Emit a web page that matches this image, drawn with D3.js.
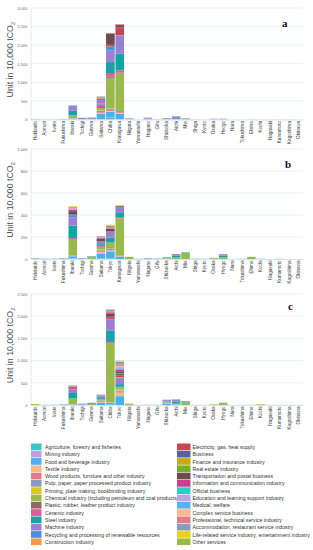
<!DOCTYPE html>
<html>
<head>
<meta charset="utf-8">
<script src="https://cdn.jsdelivr.net/npm/d3@7"></script>
<style>
  body { margin: 0; background: #fff; }
  svg { display: block; font-family: "Liberation Sans", Arial, sans-serif; }
</style>
</head>
<body>
<svg id="chart" width="313" height="550"></svg>
<script>
// industry categories (stack order = legend order)
var industries = [
  "Agriculture, forestry and fisheries", "Mining industry", "Food and beverage industry",
  "Textile industry", "Wood products, furniture and other industry",
  "Pulp, paper, paper processed product industry", "Printing, plate making, bookbinding industry",
  "Chemical industry (including petroleum and coal products)", "Plastic, rubber, leather product  industry",
  "Ceramic industry", "Steel industry", "Machine industry",
  "Recycling and processing of renewable resources", "Construction industry",
  "Electricity, gas, heat supply", "Business", "Finance and insurance industry",
  "Real estate  industry", "Transportation and postal business",
  "Information and communication industry", "Official business",
  "Education and learning support industry", "Medical, welfare", "Complex service business",
  "Professional, technical service industry", "Accommodation, restaurant service industry",
  "Life-related service industry, entertainment industry", "Other services"
];
var colors = [
  "#3cc3c8", "#b9a0e0", "#4cb0ee", "#f7b98a", "#df7b84", "#8c9bbb", "#e0c810",
  "#9ab94c", "#8b6b63", "#dd5c9f", "#16a3a3", "#9a7fd2", "#4f8fd8", "#f39a4a",
  "#c8464d", "#58619a", "#c9a912", "#79b023", "#6c4d4b", "#c7408f", "#34c8c8",
  "#b8a6e2", "#55b3f2", "#f8b890", "#e27d86", "#8b9bba", "#e8d21c", "#9ab94c"
];

var prefsA = ["Hokkaido","Aomori","Iwate","Fukushima","Ibaraki","Tochigi","Gunma","Saitama","Chiba","Kanagawa",
  "Niigata","Yamanashi","Nagano","Gifu","Shizuoka","Aichi","Mie","Shiga","Kyoto","Osaka","Hyogo","Nara",
  "Tokushima","Ehime","Kochi","Nagasaki","Kumamoto","Kagoshima","Okinawa"];
var prefsB = ["Hokkaido","Aomori","Iwate","Fukushima","Ibaraki","Tochigi","Gunma","Saitama","Tokyo","Kanagawa",
  "Niigata","Yamanashi","Nagano","Gifu","Shizuoka","Aichi","Mie","Shiga","Kyoto","Osaka","Hyogo","Nara",
  "Tokushima","Ehime","Kochi","Nagasaki","Kumamoto","Kagoshima","Okinawa"];
var prefsC = ["Hokkaido","Aomori","Iwate","Fukushima","Ibaraki","Tochigi","Gunma","Saitama","Chiba","Tokyo",
  "Niigata","Yamanashi","Nagano","Gifu","Shizuoka","Aichi","Mie","Shiga","Kyoto","Osaka","Hyogo","Nara",
  "Tokushima","Ehime","Kochi","Nagasaki","Kumamoto","Kagoshima","Okinawa"];

// values per prefecture, 28 industries each (unit: 10,000 tCO2)
var valuesA = {
  Hokkaido:  [3,0,8,0,0,0,0,4,0,0,0,0,0,0, 0,0,0,0,0,0,0,0,0,0,0,0,0,0],
  Aomori:    [0,0,3,0,0,0,0,2,0,0,0,0,0,0, 0,0,0,0,0,0,0,0,0,0,0,0,0,0],
  Iwate:     [0,0,3,0,0,0,0,0,0,0,0,2,0,0, 0,0,0,0,0,0,0,0,0,0,0,0,0,0],
  Fukushima: [0,0,5,0,0,0,0,5,0,0,0,5,0,0, 0,0,0,0,0,0,0,0,0,0,0,0,0,0],
  Ibaraki:   [5,0,15,5,0,10,0,65,0,10,125,130,5,0, 0,0,0,0,0,0,0,0,0,0,0,10,0,0],
  Tochigi:   [0,0,10,0,0,5,0,0,0,0,0,30,0,0, 0,0,0,0,0,0,0,0,0,0,0,0,0,0],
  Gunma:     [0,0,10,0,0,10,0,0,0,0,0,30,5,0, 0,0,0,0,0,0,0,0,0,0,0,0,0,0],
  Saitama:   [10,0,150,20,20,30,15,60,30,70,20,100,30,15, 20,0,0,0,0,0,0,0,0,0,10,20,0,0],
  Chiba:     [40,10,160,20,30,40,10,810,30,100,300,300,100,10, 20,30,0,0,300,10,0,0,0,0,0,0,0,10],
  Kanagawa:  [10,0,150,20,20,30,0,1010,20,60,450,490,10,0, 190,20,0,0,60,10,0,0,0,0,20,0,0,0],
  Niigata:   [0,0,5,0,0,0,0,10,0,0,0,15,0,0, 0,0,0,0,0,0,0,0,0,0,0,0,0,0],
  Yamanashi: [0,0,0,0,0,0,0,0,0,0,0,3,0,0, 0,0,0,0,0,0,0,0,0,0,0,0,0,0],
  Nagano:    [0,0,20,0,0,5,0,0,0,0,0,25,0,0, 0,0,0,0,0,0,0,0,0,0,0,0,0,0],
  Gifu:      [0,0,5,0,0,0,0,0,0,0,0,5,0,0, 0,0,0,0,0,0,0,0,0,0,0,0,0,0],
  Shizuoka:  [0,0,10,0,0,15,0,0,0,0,0,15,0,0, 0,0,0,0,0,0,0,0,0,0,0,0,0,0],
  Aichi:     [0,0,0,0,0,0,0,10,0,0,25,40,10,0, 0,0,0,0,0,0,0,0,0,0,0,0,0,0],
  Mie:       [0,0,0,0,0,0,0,20,0,0,0,15,0,0, 0,0,0,0,0,0,0,0,0,0,0,0,0,0],
  Shiga:     [0,0,0,0,0,0,0,0,0,0,0,5,0,0, 0,0,0,0,0,0,0,0,0,0,0,0,0,0],
  Kyoto:     [0,0,3,0,0,0,0,0,0,0,0,0,0,0, 0,0,0,0,0,0,0,0,0,0,0,0,0,0],
  Osaka:     [0,0,5,0,0,5,0,0,0,0,0,10,0,0, 0,0,0,0,0,0,0,0,0,0,0,0,0,0],
  Hyogo:     [0,0,5,0,0,0,0,0,0,0,5,10,0,0, 0,0,0,0,0,0,0,0,0,0,0,0,0,0],
  Nara:      [0,0,2,0,0,0,0,0,0,0,0,0,0,0, 0,0,0,0,0,0,0,0,0,0,0,0,0,0],
  Tokushima: [0,0,0,0,0,0,0,2,0,0,0,0,0,0, 0,0,0,0,0,0,0,0,0,0,0,0,0,0],
  Ehime:     [0,0,0,0,0,0,0,5,0,0,0,0,0,0, 0,0,0,0,0,0,0,0,0,0,0,0,0,0],
  Kochi:     [0,0,2,0,0,0,0,0,0,0,0,0,0,0, 0,0,0,0,0,0,0,0,0,0,0,0,0,0],
  Nagasaki:  [0,0,3,0,0,0,0,0,0,0,0,0,0,0, 0,0,0,0,0,0,0,0,0,0,0,0,0,0],
  Kumamoto:  [0,0,0,0,0,0,0,0,0,0,0,3,0,0, 0,0,0,0,0,0,0,0,0,0,0,0,0,0],
  Kagoshima: [0,0,3,0,0,0,0,0,0,0,0,0,0,0, 0,0,0,0,0,0,0,0,0,0,0,0,0,0],
  Okinawa:   [0,0,2,0,0,0,0,0,0,0,0,0,0,0, 0,0,0,0,0,0,0,0,0,0,0,0,0,0]
};
var valuesB = {
  Hokkaido:  [0,0,5,0,0,0,0,3,0,0,0,0,0,0, 0,0,0,0,0,0,0,0,0,0,0,0,0,0],
  Aomori:    [0,0,3,0,0,0,0,0,0,0,0,0,0,0, 0,0,0,0,0,0,0,0,0,0,0,0,0,0],
  Iwate:     [0,0,3,0,0,0,0,0,0,0,0,0,0,0, 0,0,0,0,0,0,0,0,0,0,0,0,0,0],
  Fukushima: [0,0,5,0,0,0,0,3,0,0,0,0,0,0, 0,0,0,0,0,0,0,0,0,0,0,0,0,0],
  Ibaraki:   [5,0,20,5,0,0,0,145,0,15,115,75,15,0, 0,10,0,0,30,15,0,10,0,0,10,5,7,0],
  Tochigi:   [0,0,5,0,0,0,0,0,0,0,0,3,0,0, 0,0,0,0,0,0,0,0,0,0,0,0,0,0],
  Gunma:     [0,0,0,0,0,0,0,15,0,0,8,2,0,0, 0,0,0,0,0,0,0,0,0,0,0,0,0,0],
  Saitama:   [5,0,45,10,10,10,10,15,5,10,15,20,5,0, 0,0,0,0,25,5,0,0,0,0,6,10,0,0],
  Tokyo:     [5,0,65,10,0,15,0,55,0,0,45,55,0,0, 0,0,0,0,25,0,0,0,0,0,15,15,7,0],
  Kanagawa:  [0,0,20,5,0,5,0,340,0,10,45,40,5,0, 0,0,0,0,10,0,0,0,0,0,0,5,5,0],
  Niigata:   [0,0,0,0,0,0,0,20,0,0,0,0,0,0, 0,0,0,0,0,0,0,0,0,0,0,0,0,0],
  Yamanashi: [0,0,2,0,0,0,0,0,0,0,0,0,0,0, 0,0,0,0,0,0,0,0,0,0,0,0,0,0],
  Nagano:    [0,0,5,0,0,3,0,0,0,0,0,0,0,0, 0,0,0,0,0,0,0,0,0,0,0,0,0,0],
  Gifu:      [0,0,4,0,0,0,0,0,0,0,0,0,0,0, 0,0,0,0,0,0,0,0,0,0,0,0,0,0],
  Shizuoka:  [0,0,0,0,0,5,0,5,0,0,5,0,0,0, 0,0,0,0,0,0,0,0,0,0,0,0,0,0],
  Aichi:     [0,0,0,0,0,0,0,15,0,0,15,15,0,0, 0,0,0,0,0,0,0,0,0,0,0,0,0,0],
  Mie:       [0,0,0,0,0,0,0,55,0,0,5,0,0,0, 0,0,0,0,0,0,0,0,0,0,0,0,0,0],
  Shiga:     [0,0,3,0,0,0,0,0,0,0,0,0,0,0, 0,0,0,0,0,0,0,0,0,0,0,0,0,0],
  Kyoto:     [0,0,2,0,0,0,0,0,0,0,0,0,0,0, 0,0,0,0,0,0,0,0,0,0,0,0,0,0],
  Osaka:     [0,0,0,0,0,3,0,8,0,0,0,0,0,0, 0,0,0,0,0,0,0,0,0,0,0,0,0,0],
  Hyogo:     [0,0,0,0,0,0,0,15,0,0,15,10,5,0, 0,0,0,0,0,0,0,0,0,0,0,0,0,0],
  Nara:      [0,0,0,0,0,0,0,0,0,0,0,0,0,0, 0,0,0,0,0,0,0,0,0,0,0,0,0,0],
  Tokushima: [0,0,2,0,0,0,0,0,0,0,0,0,0,0, 0,0,0,0,0,0,0,0,0,0,0,0,0,0],
  Ehime:     [0,0,0,0,0,0,0,20,0,0,0,0,0,0, 0,0,0,0,0,0,0,0,0,0,0,0,0,0],
  Kochi:     [0,0,2,0,0,0,0,0,0,0,0,0,0,0, 0,0,0,0,0,0,0,0,0,0,0,0,0,0],
  Nagasaki:  [0,0,0,0,0,0,0,0,0,0,0,0,0,0, 0,0,0,0,0,0,0,0,0,0,0,0,0,0],
  Kumamoto:  [0,0,2,0,0,0,0,0,0,0,0,0,0,0, 0,0,0,0,0,0,0,0,0,0,0,0,0,0],
  Kagoshima: [0,0,0,0,0,0,0,0,0,0,0,0,0,0, 0,0,0,0,0,0,0,0,0,0,0,0,0,0],
  Okinawa:   [0,0,0,0,0,0,0,0,0,0,0,0,0,0, 0,0,0,0,0,0,0,0,0,0,0,0,0,0]
};
var valuesC = {
  Hokkaido:  [0,0,0,0,0,0,0,20,0,0,0,0,0,0, 0,0,0,0,0,0,0,0,0,0,0,0,0,0],
  Aomori:    [0,0,5,0,0,0,0,0,0,0,0,0,0,0, 0,0,0,0,0,0,0,0,0,0,0,0,0,0],
  Iwate:     [0,0,5,0,0,0,0,0,0,0,0,0,0,0, 0,0,0,0,0,0,0,0,0,0,0,0,0,0],
  Fukushima: [0,0,5,0,0,0,0,0,0,0,0,10,0,0, 0,0,0,0,0,0,0,0,0,0,0,0,0,0],
  Ibaraki:   [5,0,10,0,0,0,0,130,0,0,125,85,10,0, 25,0,0,0,20,0,0,0,0,0,15,15,0,0],
  Tochigi:   [0,0,10,0,0,0,0,0,0,0,0,15,5,0, 0,0,0,0,0,0,0,0,0,0,0,0,0,0],
  Gunma:     [0,0,0,0,0,0,0,20,0,0,20,10,0,0, 0,0,0,0,0,0,0,0,0,0,0,0,0,0],
  Saitama:   [0,0,50,15,15,20,0,20,0,15,20,35,10,0, 0,0,0,0,10,0,0,0,0,0,10,15,0,0],
  Chiba:     [10,0,40,10,0,0,0,1340,0,20,250,250,20,0, 40,20,0,0,50,20,0,0,0,0,40,40,0,0],
  Tokyo:     [0,0,200,80,20,30,20,40,0,20,60,120,20,20, 40,30,10,0,50,30,20,40,10,20,30,70,15,5],
  Niigata:   [0,0,0,0,0,0,0,30,0,0,0,0,0,0, 0,0,0,0,0,0,0,0,0,0,0,0,0,0],
  Yamanashi: [0,0,3,0,0,0,0,0,0,0,0,0,0,0, 0,0,0,0,0,0,0,0,0,0,0,0,0,0],
  Nagano:    [0,0,0,0,0,5,0,0,0,0,0,0,0,0, 0,0,0,0,0,0,0,0,0,0,0,0,0,0],
  Gifu:      [0,0,5,0,0,0,0,0,0,0,0,0,0,0, 0,0,0,0,0,0,0,0,0,0,0,0,0,0],
  Shizuoka:  [0,0,30,10,0,20,0,20,0,0,10,20,0,0, 0,0,0,0,0,0,0,0,0,0,0,10,0,0],
  Aichi:     [0,0,15,0,0,0,0,30,0,0,30,40,5,0, 0,0,0,0,0,0,0,0,0,0,0,10,0,0],
  Mie:       [0,0,0,0,0,0,0,60,0,0,15,15,0,0, 0,0,0,0,0,0,0,0,0,0,0,0,0,0],
  Shiga:     [0,0,3,0,0,0,0,0,0,0,0,0,0,0, 0,0,0,0,0,0,0,0,0,0,0,0,0,0],
  Kyoto:     [0,0,2,0,0,0,0,0,0,0,0,0,0,0, 0,0,0,0,0,0,0,0,0,0,0,0,0,0],
  Osaka:     [0,0,0,0,0,5,0,10,0,0,0,0,0,0, 0,0,0,0,0,0,0,0,0,0,0,0,0,0],
  Hyogo:     [0,0,0,0,0,0,0,25,0,0,0,15,10,0, 0,0,0,0,0,0,0,0,0,0,0,0,0,0],
  Nara:      [0,0,0,0,0,0,0,0,0,0,0,0,0,0, 0,0,0,0,0,0,0,0,0,0,0,0,0,0],
  Tokushima: [0,0,2,0,0,0,0,0,0,0,0,0,0,0, 0,0,0,0,0,0,0,0,0,0,0,0,0,0],
  Ehime:     [0,0,0,0,0,0,0,3,0,0,0,0,0,0, 0,0,0,0,0,0,0,0,0,0,0,0,0,0],
  Kochi:     [0,0,0,0,0,0,0,15,0,0,0,0,0,0, 0,0,0,0,0,0,0,0,0,0,0,0,0,0],
  Nagasaki:  [0,0,2,0,0,0,0,0,0,0,0,0,0,0, 0,0,0,0,0,0,0,0,0,0,0,0,0,0],
  Kumamoto:  [0,0,2,0,0,0,0,0,0,0,0,0,0,0, 0,0,0,0,0,0,0,0,0,0,0,0,0,0],
  Kagoshima: [0,0,2,0,0,0,0,0,0,0,0,0,0,0, 0,0,0,0,0,0,0,0,0,0,0,0,0,0],
  Okinawa:   [0,0,0,0,0,0,0,0,0,0,0,0,0,0, 0,0,0,0,0,0,0,0,0,0,0,0,0,0]
};

var ticksA = [0, 500, 1000, 1500, 2000, 2500, 3000];
var ticksB = [0, 200, 400, 600, 800, 1000];
var ticksC = [0, 500, 1000, 1500, 2000, 2500];

var svg = d3.select("#chart");
var left = 30.5, right = 303;

var panels = [
  {prefs: prefsA, values: valuesA, ticks: ticksA, top: 8, bottom: 119.5, letter: "a", lx: 282, ly: 27},
  {prefs: prefsB, values: valuesB, ticks: ticksB, top: 149, bottom: 259, letter: "b", lx: 285, ly: 168},
  {prefs: prefsC, values: valuesC, ticks: ticksC, top: 294, bottom: 405, letter: "c", lx: 288, ly: 310}
];

panels.forEach(function(p) {
  var x = d3.scaleBand()
      .domain(p.prefs)
      .range([left, right])
      .paddingInner(0.08)
      .paddingOuter(0.04);
  var y = d3.scaleLinear()
      .domain([0, d3.max(p.ticks)])
      .range([p.bottom, p.top]);

  var g = svg.append("g");

  // gridlines
  g.append("g")
    .selectAll("line")
    .data(p.ticks.slice(1))
    .enter().append("line")
      .attr("x1", left).attr("x2", right)
      .attr("y1", function(d) { return y(d); })
      .attr("y2", function(d) { return y(d); })
      .style("stroke", "#e6edf1")
      .style("stroke-width", 0.8);

  // y axis
  var yAxis = d3.axisLeft(y).tickValues(p.ticks).tickSize(0).tickPadding(3);
  var ya = g.append("g")
      .attr("transform", "translate(" + left + ",0)")
      .call(yAxis);
  ya.select(".domain").style("stroke", "#d5e3ea").style("stroke-width", 0.8);
  ya.selectAll("text").style("font-size", "4px").style("fill", "#666");

  // stacked bars
  var rows = p.prefs.map(function(name) {
    var r = {pref: name};
    var v = p.values[name] || [];
    industries.forEach(function(ind, i) { r[ind] = v[i] || 0; });
    return r;
  });
  var stack = d3.stack().keys(industries)(rows);

  g.append("g")
    .selectAll("g")
    .data(stack)
    .enter().append("g")
      .style("fill", function(d, i) { return colors[i]; })
    .selectAll("rect")
    .data(function(d) { return d; })
    .enter().append("rect")
      .attr("x", function(d) { return x(d.data.pref); })
      .attr("width", x.bandwidth())
      .attr("y", function(d) { return y(d[1]); })
      .attr("height", function(d) { return y(d[0]) - y(d[1]); });

  // x axis, labels rotated and hanging from the baseline
  var xAxis = d3.axisBottom(x).tickSize(0).tickPadding(0);
  var xa = g.append("g")
      .attr("transform", "translate(0," + p.bottom + ")")
      .call(xAxis);
  xa.select(".domain").style("stroke", "#c9dde8").style("stroke-width", 0.8);
  xa.selectAll(".tick").attr("transform", null);
  xa.selectAll("text")
      .style("text-anchor", "end")
      .style("font-size", "4.6px")
      .style("fill", "#3a3a3a")
      .attr("x", -1.5).attr("y", 0)
      .attr("dy", "0.35em")
      .attr("transform", function(d) { return "translate(" + (x(d) + x.bandwidth() / 2) + ",0) rotate(-90)"; });

  // y axis title
  var t = g.append("text")
      .attr("transform", "translate(13," + ((p.top + p.bottom) / 2 - 4) + ") rotate(-90)")
      .style("text-anchor", "middle")
      .style("font-size", "8.8px")
      .style("fill", "#505050")
      .text("Unit in 10,000 tCO");
  t.append("tspan").attr("dy", "2").style("font-size", "5.5px").text("2");

  // panel letter
  g.append("text")
      .attr("x", p.lx).attr("y", p.ly)
      .style("font-family", "'Liberation Serif', 'Times New Roman', serif")
      .style("font-weight", "bold")
      .style("font-size", "11px")
      .style("fill", "#111")
      .text(p.letter);
});

// legend: two columns of 14
var legend = svg.append("g");
var rowStep = 7.3, firstY = 443.5;
var item = legend.selectAll("g")
    .data(industries)
  .enter().append("g")
    .attr("transform", function(d, i) {
      var col = i < 14 ? 0 : 1;
      var row = i % 14;
      return "translate(" + (col ? 177 : 31) + "," + (firstY + row * rowStep) + ")";
    });
item.append("rect")
    .attr("width", function(d, i) { return i < 14 ? 10.5 : 13.5; })
    .attr("height", rowStep - 0.6)
    .style("fill", function(d, i) { return colors[i]; });
item.append("text")
    .attr("x", function(d, i) { return i < 14 ? 14 : 15.5; })
    .attr("y", rowStep / 2)
    .attr("dy", "0.35em")
    .style("font-size", "5.2px")
    .style("fill", "#333")
    .text(function(d) { return d; });
</script>
</body>
</html>
